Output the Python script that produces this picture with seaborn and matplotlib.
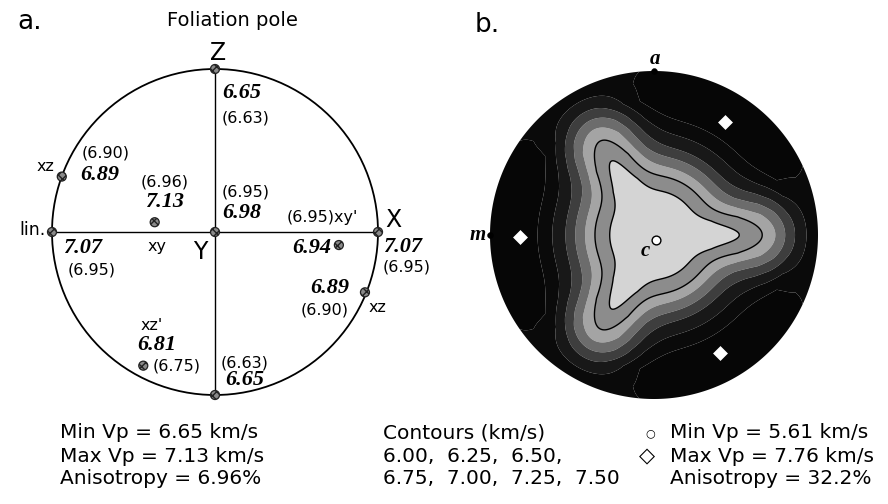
import numpy as np
import matplotlib
matplotlib.use("Agg")
import matplotlib.pyplot as plt
import seaborn as sns
from matplotlib.patches import Circle

sns.set_theme(style="white")
plt.rcParams['font.family'] = ['DejaVu Sans']
plt.rcParams['text.color'] = 'black'

# ---------------- data: panel a (P-wave velocities in km/s) ----------------
a_names = ["Z", "Z'", "lin.", "X", "Y", "xz", "xy", "xy'", "xz_low", "xz'"]
a_point_x = [0.00, 0.00, -1.00, 1.00, 0.00, -0.94, -0.37, 0.76, 0.92, -0.44]
a_point_y = [1.00, -1.00, 0.00, 0.00, 0.00, 0.34, 0.06, -0.08, -0.37, -0.82]

# bold italic (measured) values and their positions
meas_text = ["6.65", "6.89", "7.13", "6.98", "7.07", "6.94", "7.07", "6.89", "6.81", "6.65"]
meas_x = [0.043, -0.828, -0.307, 0.043, -0.81, 0.595, 1.153, 0.706, -0.356, 0.184]
meas_y = [0.853, 0.350, 0.184, 0.117, -0.098, -0.098, -0.092, -0.344, -0.693, -0.908]
meas_ha = ["left", "left", "center", "left", "center", "center", "center", "center", "center", "center"]

# parenthesised (calculated) values
calc_text = ["(6.63)", "(6.90)", "(6.96)", "(6.95)", "(6.95)xy'", "(6.95)", "(6.95)", "(6.90)", "(6.75)", "(6.63)"]
calc_x = [0.043, -0.816, -0.307, 0.043, 0.442, -0.755, 1.178, 0.675, -0.233, 0.184]
calc_y = [0.700, 0.485, 0.307, 0.245, 0.086, -0.233, -0.215, -0.479, -0.822, -0.804]
calc_ha = ["left", "left", "center", "left", "left", "center", "center", "center", "center", "center"]

# small direction labels
dir_text = ["xz", "xy", "xz", "xz'"]
dir_x = [-1.043, -0.356, 0.994, -0.387]
dir_y = [0.40, -0.092, -0.466, -0.571]

axis_text = ["Z", "X", "Y"]
axis_x = [0.02, 1.092, -0.092]
axis_y = [1.10, 0.074, -0.123]

# ---------------- data: panel b (Vp contour field) ----------------
contour_levels = [6.00, 6.25, 6.50, 6.75, 7.00, 7.25, 7.50]
vp_min, vp_max = 5.61, 7.76
# Vp profile read along the slow directions (triangle tips: 0, 120, 240 deg)
rho_slow = [0.00, 0.52, 0.66, 0.74, 0.80, 0.86, 0.93, 1.00]
vp_slow = [5.61, 6.00, 6.25, 6.50, 6.75, 7.00, 7.25, 7.35]
# Vp profile read along the fast directions (60, 180, 300 deg)
rho_fast = [0.00, 0.27, 0.36, 0.42, 0.48, 0.54, 0.62, 0.71, 0.82, 1.00]
vp_fast = [5.61, 6.00, 6.25, 6.50, 6.75, 7.00, 7.25, 7.50, 7.76, 7.55]

max_x = [0.43, -0.82, 0.40]
max_y = [0.69, -0.01, -0.72]
min_x = [0.012]
min_y = [-0.03]

band_colors = ['#d4d4d4', '#8c8c8c', '#a4a4a4', '#6c6c6c', '#3e3e3e',
               '#181818', '#0a0a0a', '#060606']

# ---------------- figure ----------------
W, H = 888, 504
fig = plt.figure(figsize=(W / 100, H / 100), dpi=100)
fig.patch.set_facecolor('white')

def place_axes(cx, cy, r, half=1.3):
    size = 2 * half * r
    ax = fig.add_axes([(cx - half * r) / W, (H - (cy + half * r)) / H, size / W, size / H])
    ax.set_xlim(-half, half)
    ax.set_ylim(-half, half)
    ax.axis('off')
    return ax

# ---------- panel a ----------
ax = place_axes(215, 232, 163)
ax.add_patch(Circle((0, 0), 1.0, fill=False, lw=1.3, ec='black', zorder=2))
ax.plot([a_point_x[2], a_point_x[3]], [a_point_y[2], a_point_y[3]], color='black', lw=1.0, zorder=2)
ax.plot([a_point_x[0], a_point_x[1]], [a_point_y[0], a_point_y[1]], color='black', lw=1.0, zorder=2)
sns.scatterplot(x=a_point_x, y=a_point_y, ax=ax, s=42, color='#8a8a8a',
                edgecolor='#222222', linewidth=0.9, hatch='xxxx', zorder=5, legend=False)

serif = dict(family='Liberation Serif', weight='bold', style='italic', fontsize=16)
for t, x, y, ha in zip(meas_text, meas_x, meas_y, meas_ha):
    ax.text(x, y, t, ha=ha, va='center', **serif)
for t, x, y, ha in zip(calc_text, calc_x, calc_y, calc_ha):
    ax.text(x, y, t, ha=ha, va='center', fontsize=11.5)
for t, x, y in zip(dir_text, dir_x, dir_y):
    ax.text(x, y, t, ha='center', va='center', fontsize=11.5)
for t, x, y in zip(axis_text, axis_x, axis_y):
    ax.text(x, y, t, ha='center', va='center', fontsize=17)
ax.text(-1.04, 0.012, "lin.", ha='right', va='center', fontsize=12.5)

# ---------- panel b ----------
bx = place_axes(654, 235, 164)
theta = np.linspace(0, 2 * np.pi, 721)
rho = np.linspace(0, 1, 301)
R, T = np.meshgrid(rho, theta)
w = ((1 + np.cos(3 * T)) / 2) ** 3
V = w * np.interp(R, rho_slow, vp_slow) + (1 - w) * np.interp(R, rho_fast, vp_fast)
X = R * np.cos(T)
Y = R * np.sin(T)
bounds = [vp_min - 0.2] + contour_levels + [vp_max + 0.2]
bx.contourf(X, Y, V, levels=bounds, colors=band_colors, antialiased=True)
bx.contour(X, Y, V, levels=contour_levels[:2], colors='black', linewidths=1.0)

sns.scatterplot(x=max_x, y=max_y, ax=bx, marker='D', s=50, color='white',
                edgecolor='white', linewidth=0.5, zorder=5, legend=False)
sns.scatterplot(x=min_x, y=min_y, ax=bx, marker='o', s=40, color='white',
                edgecolor='black', linewidth=1.0, zorder=5, legend=False)
sns.scatterplot(x=[0.0, -1.0], y=[1.0, 0.0], ax=bx, marker='o', s=18, color='black',
                edgecolor='black', zorder=6, legend=False)
bserif = dict(family='Liberation Serif', weight='bold', style='italic', fontsize=15)
bx.text(0.006, 1.075, "a", ha='center', va='center', **bserif)
bx.text(-1.075, 0.0, "m", ha='center', va='center', **bserif)
bx.text(-0.05, -0.10, "c", ha='center', va='center', **bserif)

# ---------- figure-level text ----------
def ftext(px, py, s, **kw):
    fig.text(px / W, 1 - py / H, s, **kw)

ftext(30, 22, "a.", fontsize=19, ha='center', va='center')
ftext(487, 25, "b.", fontsize=19, ha='center', va='center')
ftext(232, 20, "Foliation pole", fontsize=14, ha='center', va='center')

fs = 14.5
ftext(60, 433, "Min Vp = 6.65 km/s", fontsize=fs, ha='left', va='center')
ftext(60, 456, "Max Vp = 7.13 km/s", fontsize=fs, ha='left', va='center')
ftext(60, 478, "Anisotropy = 6.96%", fontsize=fs, ha='left', va='center')

ftext(383, 433, "Contours (km/s)", fontsize=fs, ha='left', va='center')
ftext(383, 456, ",  ".join(f"{v:.2f}" for v in contour_levels[:3]) + ",", fontsize=fs, ha='left', va='center')
ftext(383, 478, ",  ".join(f"{v:.2f}" for v in contour_levels[3:]), fontsize=fs, ha='left', va='center')

ftext(650, 433, "○", fontsize=8, ha='center', va='center')
ftext(647, 456, "◇", fontsize=15, ha='center', va='center')
ftext(670, 433, f"Min Vp = {vp_min:.2f} km/s", fontsize=fs, ha='left', va='center')
ftext(670, 456, f"Max Vp = {vp_max:.2f} km/s", fontsize=fs, ha='left', va='center')
ftext(670, 478, "Anisotropy = 32.2%", fontsize=fs, ha='left', va='center')

fig.savefig("out.png", dpi=100)
